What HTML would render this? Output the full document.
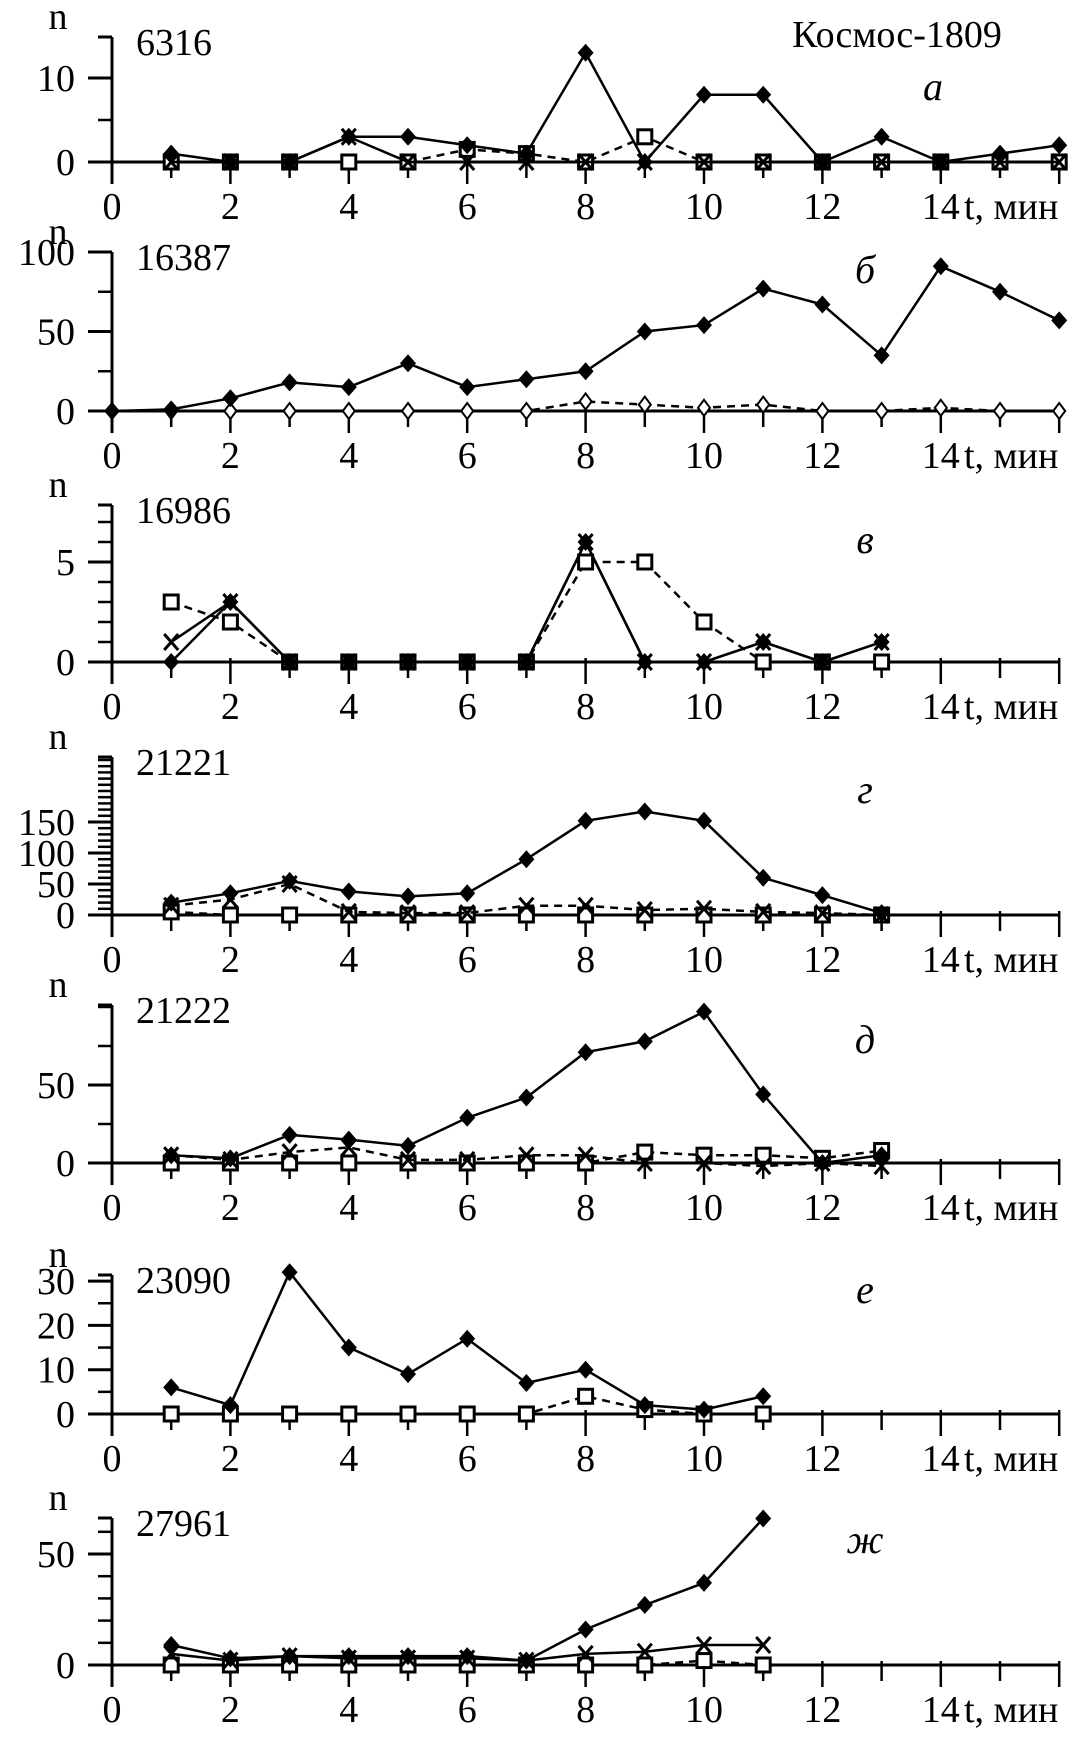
<!DOCTYPE html>
<html><head><meta charset="utf-8">
<style>
html,body{margin:0;padding:0;background:#fff;}
svg{display:block;}
text{font-family:"Liberation Serif","DejaVu Serif",serif;fill:#000;}
</style></head>
<body>
<svg id="chart" width="1089" height="1755" viewBox="0 0 1089 1755" xmlns="http://www.w3.org/2000/svg">
<text x="897" y="47" font-size="38" text-anchor="middle">Космос-1809</text>
</svg>
<script>
// ---- data (t in minutes, n values) ----
const a_diamond = [1,0,0,3,3,2,1,13,0,8,8,0,3,0,1,2];
const a_square  = [0,0,0,0,0,1.5,1,0,3,0,0,0,0,0,0,0];
const a_cross   = [0,0,0,3,0,0,0,0,0,0,0,0,0,0,0,0];
const a_t = [1,2,3,4,5,6,7,8,9,10,11,12,13,14,15,16];

const b_t = [0,1,2,3,4,5,6,7,8,9,10,11,12,13,14,15,16];
const b_diamond = [0,1,8,18,15,30,15,20,25,50,54,77,67,35,91,75,57];
const b_open    = [0,0,0,0,0,0,0,0,6,4,2,4,0,0,2,0,0];

const v_t = [1,2,3,4,5,6,7,8,9,10,11,12,13];
const v_diamond = [0,3,0,0,0,0,0,6,0,0,1,0,1];
const v_cross   = [1,3,0,0,0,0,0,6,0,0,1,0,1];
const v_square  = [3,2,0,0,0,0,0,5,5,2,0,0,0];

const g_t = [1,2,3,4,5,6,7,8,9,10,11,12,13];
const g_diamond = [20,35,55,38,30,35,90,152,167,152,60,32,3];
const g_cross   = [15,25,50,5,3,3,15,15,8,10,5,3,0];
const g_square  = [5,0,0,0,0,0,0,0,0,0,0,0,0];

const d_t = [1,2,3,4,5,6,7,8,9,10,11,12,13];
const d_diamond = [5,3,18,15,11,29,42,71,78,97,44,0,5];
const d_cross   = [5,2,7,10,2,2,5,5,0,0,-2,0,-2];
const d_square  = [0,0,0,0,0,0,0,0,7,5,5,3,8];

const e_t = [1,2,3,4,5,6,7,8,9,10,11];
const e_diamond = [6,2,32,15,9,17,7,10,2,1,4];
const e_square  = [0,0,0,0,0,0,0,4,1,0,0];

const zh_t = [1,2,3,4,5,6,7,8,9,10,11];
const zh_diamond = [9,3,4,4,4,4,2,16,27,37,66];
const zh_cross   = [5,2,4,3,3,3,2,5,6,9,9];
const zh_square  = [0,0,0,0,0,0,0,0,0,2,0];

const xTickLabels = ["0","2","4","6","8","10","12","14"];

const panels = [
 {id:"a", num:"6316", letter:"а", lx:933, ly:100, zero:162, ppu:8.4, top:37, majors:[0,10], minors:[5],
  series:[{t:a_t,v:a_square,m:"square",dash:true},{t:a_t,v:a_cross,m:"cross",dash:false},{t:a_t,v:a_diamond,m:"diamond",dash:false}]},
 {id:"b", num:"16387", letter:"б", lx:865, ly:283, zero:411, ppu:1.59, top:252, majors:[0,50,100], minors:[25,75],
  series:[{t:b_t,v:b_open,m:"open",dash:true},{t:b_t,v:b_diamond,m:"diamond",dash:false}]},
 {id:"v", num:"16986", letter:"в", lx:865, ly:553, zero:662, ppu:20, top:505, majors:[0,5], minors:[1,2,3,4,6,7],
  series:[{t:v_t,v:v_square,m:"square",dash:true},{t:v_t,v:v_cross,m:"cross",dash:false},{t:v_t,v:v_diamond,m:"diamond",dash:false}]},
 {id:"g", num:"21221", letter:"г", lx:865, ly:803, zero:915, ppu:0.62, top:757, majors:[0,50,100,150], minors:[10,20,30,40,60,70,80,90,110,120,130,140,160,170,180,190,200,210,220,230,240,250],
  series:[{t:g_t,v:g_square,m:"square",dash:true},{t:g_t,v:g_cross,m:"cross",dash:true},{t:g_t,v:g_diamond,m:"diamond",dash:false}]},
 {id:"d", num:"21222", letter:"д", lx:865, ly:1053, zero:1163, ppu:1.56, top:1005, majors:[0,50], minors:[25,75,100],
  series:[{t:d_t,v:d_square,m:"square",dash:true},{t:d_t,v:d_cross,m:"cross",dash:true},{t:d_t,v:d_diamond,m:"diamond",dash:false}]},
 {id:"e", num:"23090", letter:"е", lx:865, ly:1303, zero:1414, ppu:4.43, top:1275, majors:[0,10,20,30], minors:[5,15,25],
  series:[{t:e_t,v:e_square,m:"square",dash:true},{t:e_t,v:e_diamond,m:"diamond",dash:false}]},
 {id:"zh", num:"27961", letter:"ж", lx:865, ly:1553, zero:1665, ppu:2.22, top:1518, majors:[0,50], minors:[10,20,30,40,60],
  series:[{t:zh_t,v:zh_square,m:"square",dash:true},{t:zh_t,v:zh_cross,m:"cross",dash:false},{t:zh_t,v:zh_diamond,m:"diamond",dash:false}]}
];

const svg = document.getElementById('chart');
const NS = "http://www.w3.org/2000/svg";
const X0 = 112, STEP = 59.2;
function xs(t){return X0 + t*STEP;}
function mk(tag, attrs){const e=document.createElementNS(NS,tag);for(const k in attrs)e.setAttribute(k,attrs[k]);svg.appendChild(e);return e;}

panels.forEach(p=>{
  const ys = v => p.zero - v*p.ppu;
  const bl = mk('line',{x1:88,x2:1058,y1:p.zero,y2:p.zero,stroke:'#000','stroke-width':3});
  
  
  const ya = mk('line',{x1:X0,x2:X0,y1:p.top,y2:p.zero+22,stroke:'#000','stroke-width':3});
  
  
  const topTick = mk('line',{x1:X0-14,x2:X0,y1:p.top,y2:p.top,stroke:'#000','stroke-width':3});
  
  
  for(let i=1;i<=16;i++){
    const tk = mk('line',{x1:xs(i),x2:xs(i),y1:p.zero-4,y2:p.zero+(i%2===0?22:16),stroke:'#000','stroke-width':2.5});
    
    
  }
  xTickLabels.forEach((lab,i)=>{
    const tx = mk('text',{x:xs(i*2),y:p.zero+57,'font-size':38,'text-anchor':'middle'});
    tx.textContent = lab;
    
    
  });
  const unit = mk('text',{x:964,y:p.zero+57,'font-size':38,'text-anchor':'start'});
  unit.textContent='t, мин';
  
  
  p.majors.forEach(v=>{
    const y=ys(v);
    const l=mk('line',{x1:X0-24,x2:X0,y1:y,y2:y,stroke:'#000','stroke-width':3});
    
    
    const t=mk('text',{x:X0-37,y:y+13,'font-size':38,'text-anchor':'end'});
    t.textContent=String(v);
    
    
  });
  p.minors.forEach(v=>{
    const y=ys(v);
    if(y < p.top-1) return;
    const l=mk('line',{x1:X0-14,x2:X0,y1:y,y2:y,stroke:'#000','stroke-width':2.5});
    
    
  });
  const n=mk('text',{x:58,y:p.top-8,'font-size':38,'text-anchor':'middle'});
  n.textContent='n';
  
  
  const num=mk('text',{x:X0+24,y:p.top+18,'font-size':38});
  num.textContent=p.num;
  
  
  const let_=mk('text',{x:p.lx,y:p.ly,'font-size':40,'font-style':'italic','text-anchor':'middle'});
  let_.textContent=p.letter;
  
  
  p.series.forEach((s,si)=>{
    const pts = s.t.map((t,i)=>xs(t).toFixed(1)+','+ys(s.v[i]).toFixed(1)).join(' ');
    const pl = mk('polyline',{points:pts,fill:'none',stroke:'#000','stroke-width':2.5,'stroke-dasharray':s.dash?'8,6':'none'});
    
    
    s.t.forEach((t,i)=>{
      const cx=xs(t), cy=ys(s.v[i]);
      let e;
      if(s.m==='diamond'){
        e=mk('polygon',{points:`${cx},${cy-9} ${cx+8},${cy} ${cx},${cy+9} ${cx-8},${cy}`,fill:'#000'});
      } else if(s.m==='open'){
        e=mk('polygon',{points:`${cx},${cy-8} ${cx+6},${cy} ${cx},${cy+8} ${cx-6},${cy}`,fill:'#fff',stroke:'#000','stroke-width':2});
      } else if(s.m==='square'){
        e=mk('rect',{x:cx-7,y:cy-7,width:14,height:14,fill:'#fff',stroke:'#000','stroke-width':3});
      } else {
        e=mk('path',{d:`M${cx-7},${cy-8}L${cx+7},${cy+8}M${cx+7},${cy-8}L${cx-7},${cy+8}`,stroke:'#000','stroke-width':3,fill:'none'});
      }
      
      
    });
  });
});
</script>
</body></html>
